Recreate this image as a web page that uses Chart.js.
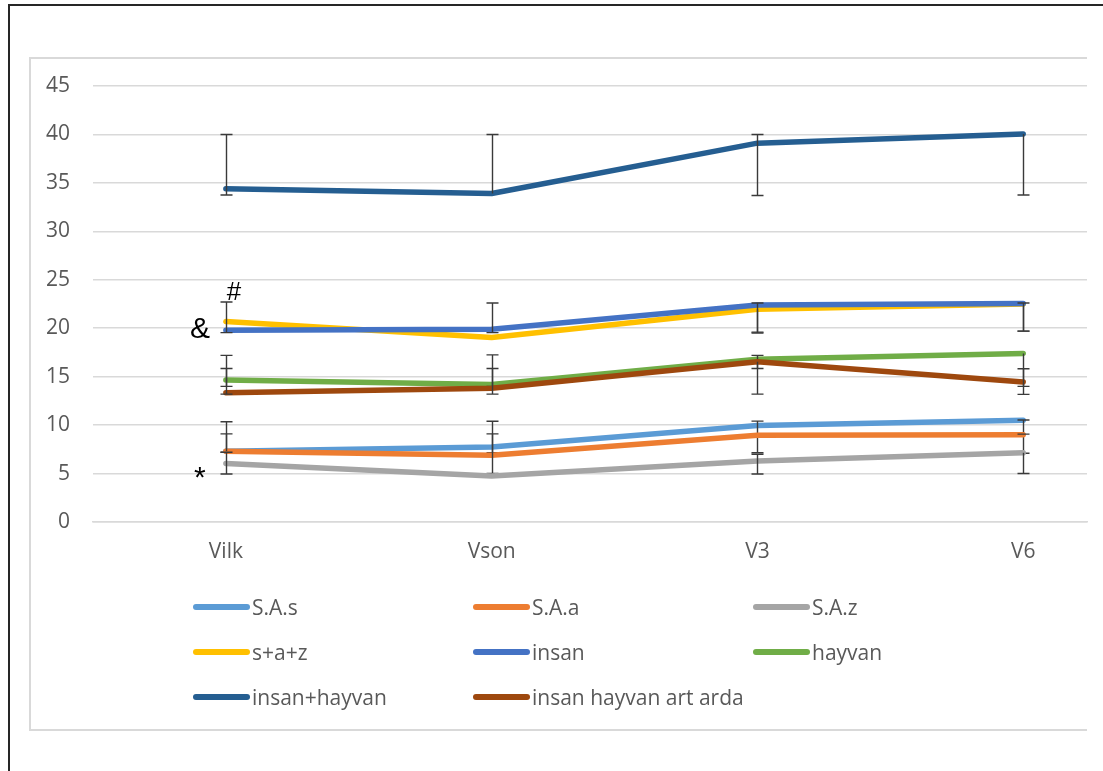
<!DOCTYPE html>
<html>
<head>
<meta charset="utf-8">
<script src="https://cdn.jsdelivr.net/npm/chart.js@4/dist/chart.umd.min.js"></script>
<style>
  html, body { margin:0; padding:0; background:#fff; width:1103px; height:771px; overflow:hidden; }
  #outer { position:absolute; left:8px; top:4px; width:1200px; height:900px; border:2px solid #262626; box-sizing:border-box; }
  #inner { position:absolute; left:29px; top:57px; width:1058px; height:674px; border-left:2px solid #d9d9d9; border-top:2px solid #d9d9d9; border-bottom:2px solid #d9d9d9; box-sizing:border-box; }
  #c { position:absolute; left:0; top:0; }
  #legend { position:absolute; left:0; top:0; width:1103px; height:771px; pointer-events:none; font-family:"Open Sans", sans-serif; font-size:21px; color:#595959; }
  .li { position:absolute; display:flex; align-items:center; height:30px; white-space:nowrap; }
  .sw { width:57px; height:6px; border-radius:3px; margin-right:2px; }
</style>
</head>
<body>
<div id="outer"></div>
<div id="inner"></div>
<canvas id="c" width="1103" height="771"></canvas>
<div id="legend"></div>
<script>
// ---- data ----
const categories = ['Vilk', 'Vson', 'V3', 'V6'];
const seriesNames = ['S.A.s', 'S.A.a', 'S.A.z', 's+a+z', 'insan', 'hayvan', 'insan+hayvan', 'insan hayvan art arda'];

const saS   = [7.3, 7.75, 9.95, 10.5];
const saA   = [7.3, 6.9, 8.95, 9.0];
const saZ   = [6.05, 4.75, 6.3, 7.15];
const saz   = [20.7, 19.05, 21.95, 22.5];
const insan = [19.8, 19.9, 22.4, 22.55];
const hayvan = [14.65, 14.2, 16.8, 17.4];
const insanHayvan = [34.4, 33.9, 39.1, 40.05];
const artArda = [13.35, 13.8, 16.55, 14.45];

// error bars (plus / minus) per series
const saSPlus = [3.05, 2.65, 0.46, 0.02], saSMinus = [0.1, 0.6, 2.8, 3.4];
const saAPlus = [1.8, 2.2, 0, 0.07],      saAMinus = [0, 1.9, 0, 0];
const saZPlus = [1.15, 0, 0.7, 0],        saZMinus = [1.1, 0, 1.35, 2.15];
const sazPlus = [0, 0, 0, 0],             sazMinus = [0, 0, 2.45, 2.8];
const insanPlus = [2.9, 2.7, 0.2, 0.05],  insanMinus = [0.25, 0.35, 2.8, 2.85];
const hayvanPlus = [2.55, 3.05, 0.4, 0],  hayvanMinus = [0.65, 0.2, 0.95, 3.4];
const ihPlus = [5.6, 6.1, 0.9, 0],        ihMinus = [0.65, 0, 5.4, 6.3];
const aaPlus = [2.5, 2.05, 0, 1.37],      aaMinus = [0.15, 0.6, 3.35, 1.28];

const yMin = 0, yMax = 45, yStep = 5;

// annotations: text placed relative to a category / value
const notes = [
  { text: '#', cat: 0, value: 23.7, dx: 8, size: 26 },
  { text: '&', cat: 0, value: 19.8, dx: -26, size: 30 },
  { text: '*', cat: 0, value: 4.5, dx: -26, size: 30 }
];

// ---- styling ----
const colors = ['#5B9BD5', '#ED7D31', '#A5A5A5', '#FFC000', '#4472C4', '#70AD47', '#255E91', '#9E480E'];
const values = [saS, saA, saZ, saz, insan, hayvan, insanHayvan, artArda];
const plus = [saSPlus, saAPlus, saZPlus, sazPlus, insanPlus, hayvanPlus, ihPlus, aaPlus];
const minus = [saSMinus, saAMinus, saZMinus, sazMinus, insanMinus, hayvanMinus, ihMinus, aaMinus];

const datasets = seriesNames.map((name, i) => ({
  label: name,
  data: values[i].map((v, k) => ({ x: k, y: v })),
  borderColor: colors[i],
  backgroundColor: colors[i],
  borderWidth: 5.5,
  borderCapStyle: 'round',
  borderJoinStyle: 'round',
  pointRadius: 0,
  tension: 0,
  fill: false,
  order: seriesNames.length - i,
  errPlus: plus[i],
  errMinus: minus[i]
}));

const errorBarPlugin = {
  id: 'errorBars',
  afterDatasetDraw(chart, args) {
    const ds = chart.data.datasets[args.index];
    const xs = chart.scales.x, ys = chart.scales.y;
    const ctx = chart.ctx;
    ctx.save();
    ctx.strokeStyle = '#3a3a3a';
    ctx.lineWidth = 1.4;
    ds.data.forEach((p, k) => {
      const up = ds.errPlus[k], dn = ds.errMinus[k];
      if (!up && !dn) return;
      const px = Math.round(xs.getPixelForValue(p.x)) + 0.5;
      const yT = ys.getPixelForValue(p.y + up);
      const yB = ys.getPixelForValue(p.y - dn);
      ctx.beginPath();
      ctx.moveTo(px, yT); ctx.lineTo(px, yB);
      if (up) { ctx.moveTo(px - 6, yT); ctx.lineTo(px + 6, yT); }
      if (dn) { ctx.moveTo(px - 6, yB); ctx.lineTo(px + 6, yB); }
      ctx.stroke();
    });
    ctx.restore();
  }
};

const notesPlugin = {
  id: 'notes',
  afterDatasetsDraw(chart) {
    const ctx = chart.ctx, xs = chart.scales.x, ys = chart.scales.y;
    ctx.save();
    ctx.fillStyle = '#000';
    ctx.textAlign = 'center';
    ctx.textBaseline = 'middle';
    notes.forEach(n => {
      ctx.font = n.size + 'px "Liberation Sans", sans-serif';
      ctx.fillText(n.text, xs.getPixelForValue(n.cat) + n.dx, ys.getPixelForValue(n.value));
    });
    ctx.restore();
  }
};

const chart = new Chart(document.getElementById('c'), {
  type: 'line',
  data: { datasets },
  plugins: [errorBarPlugin, notesPlugin],
  options: {
    responsive: false,
    animation: false,
    events: [],
    layout: { padding: { left: 0, right: 16, top: 86, bottom: 0 } },
    plugins: { legend: { display: false }, tooltip: { enabled: false } },
    scales: {
      x: {
        type: 'linear',
        min: -0.5,
        max: 3.24,
        afterBuildTicks(scale) { scale.ticks = categories.map((c, i) => ({ value: i })); },
        afterFit(scale) { scale.height = 249; },
        grid: { display: false, drawTicks: false },
        border: { display: true, color: '#d9d9d9', width: 1.5 },
        ticks: {
          callback: (v) => categories[v],
          color: '#595959',
          font: { family: '"Open Sans", sans-serif', size: 21 },
          padding: 17,
          autoSkip: false,
          maxRotation: 0
        }
      },
      y: {
        min: yMin,
        max: yMax,
        afterFit(scale) { scale.width = 93; },
        grid: { color: '#d9d9d9', lineWidth: 1.5, drawTicks: false },
        border: { display: false },
        ticks: {
          stepSize: yStep,
          color: '#595959',
          font: { family: '"Open Sans", sans-serif', size: 21 },
          padding: 23
        }
      }
    }
  }
});

// HTML legend in a 3-column grid
const legend = document.getElementById('legend');
chart.data.datasets.forEach((ds, i) => {
  const col = i % 3, row = Math.floor(i / 3);
  const el = document.createElement('div');
  el.className = 'li';
  el.style.left = (193 + col * 280) + 'px';
  el.style.top = (592 + row * 45) + 'px';
  const sw = document.createElement('span');
  sw.className = 'sw';
  sw.style.background = ds.borderColor;
  const tx = document.createElement('span');
  tx.textContent = ds.label;
  el.appendChild(sw); el.appendChild(tx);
  legend.appendChild(el);
});
</script>
</body>
</html>
